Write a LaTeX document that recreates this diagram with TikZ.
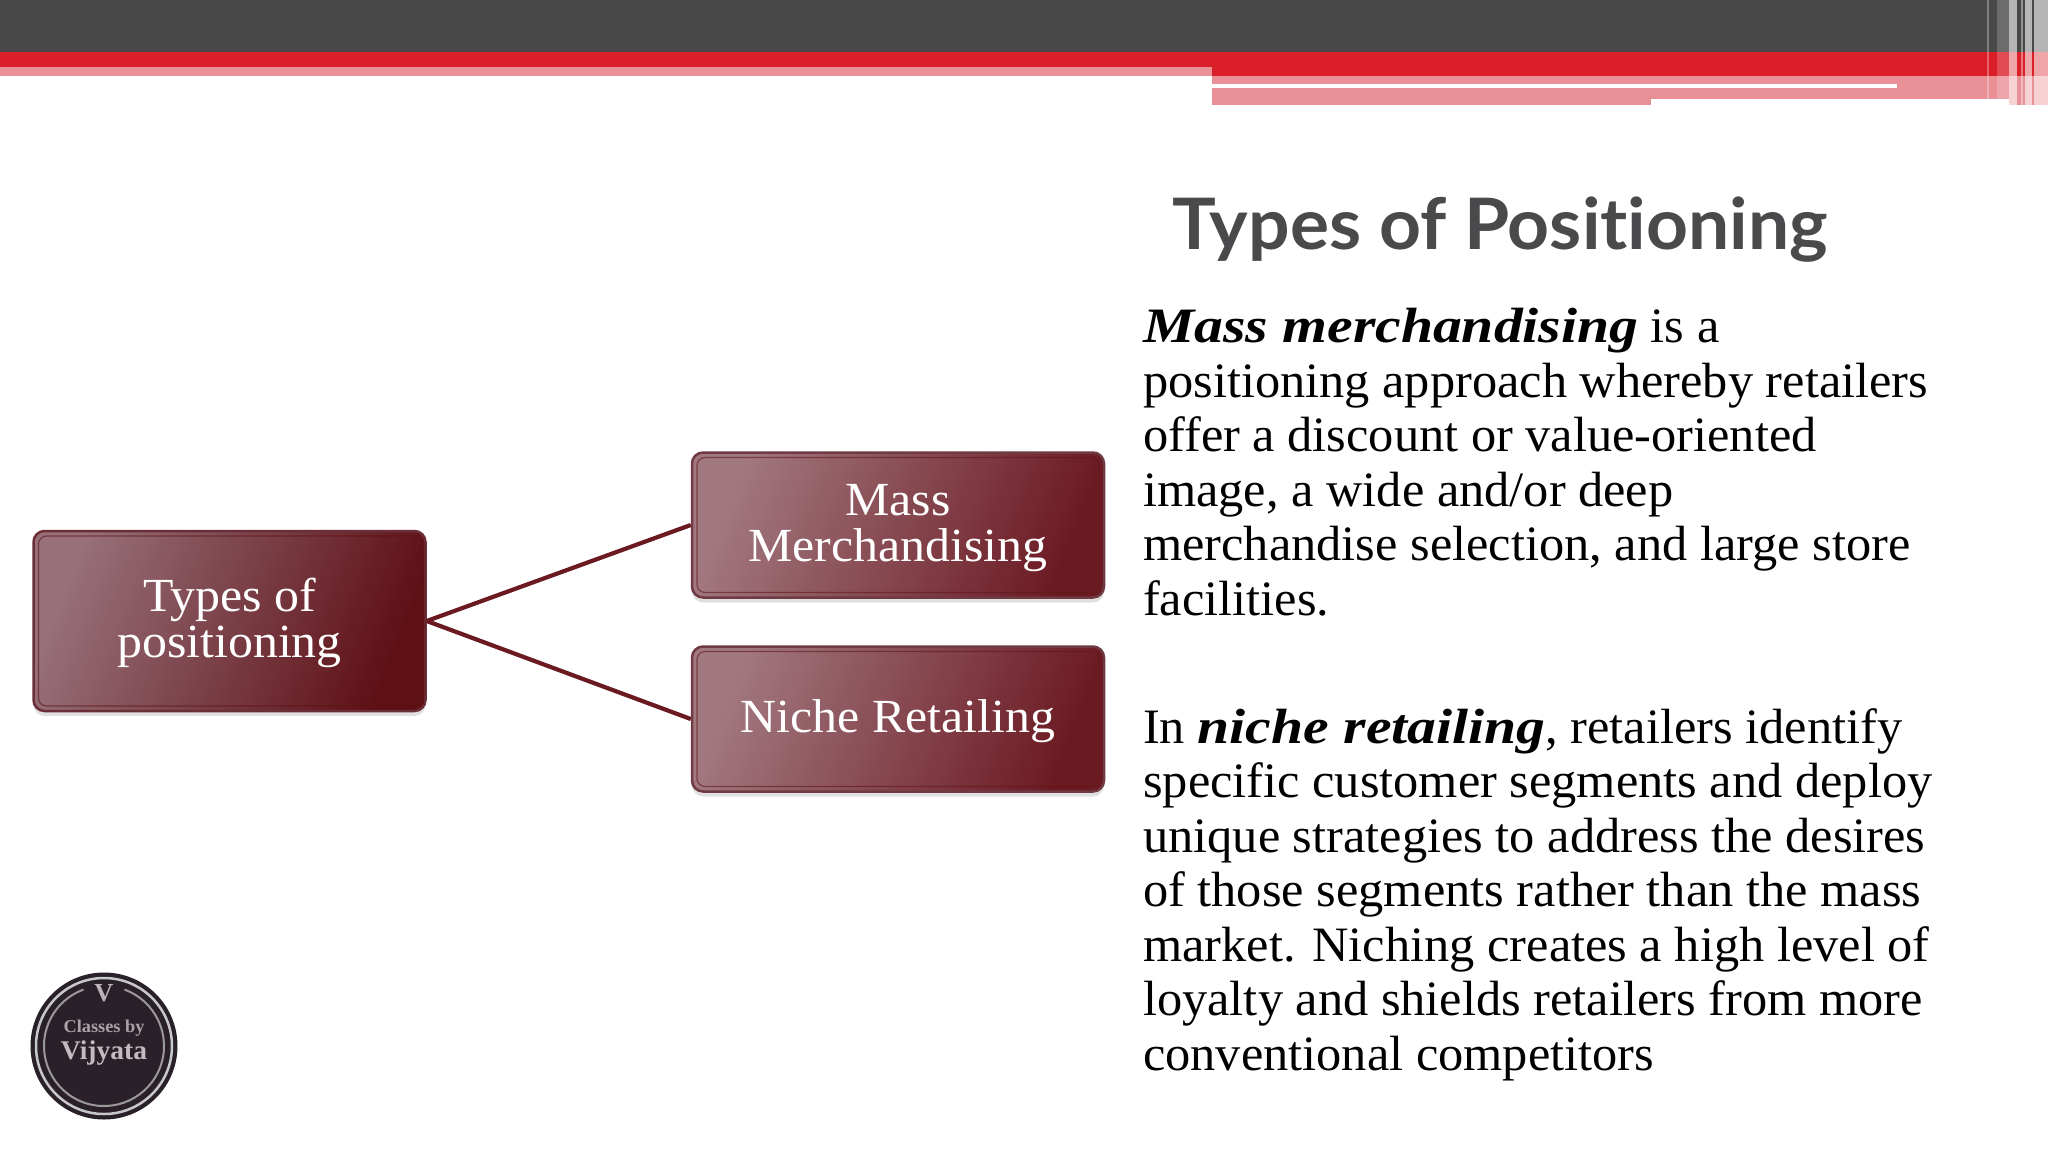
\documentclass[tikz,border=0pt]{standalone}
\usepackage{fontspec}
\setmainfont{Liberation Serif}[FakeStretch=1.018]
\newfontfamily\titlefont{Lato}[FakeStretch=1.03,Ligatures=CommonOff]
\newfontfamily\boxfont{Liberation Serif}[FakeStretch=1.05]
\newfontfamily\emphfont{Liberation Serif}[FakeStretch=1.165]
\newcommand\boxstrut{\rule{0pt}{37pt}}
\newcommand\keyterm[1]{{\emphfont\bfseries\itshape #1}}
\usetikzlibrary{shadows}
\definecolor{bardark}{HTML}{484848}
\definecolor{barred}{HTML}{DB1F28}
\definecolor{barpink}{HTML}{E98F96}
\definecolor{titlegray}{HTML}{4A4A4C}
\definecolor{wine}{HTML}{6A1A20}
\definecolor{logodark}{HTML}{2A2029}
\definecolor{edgebig}{HTML}{6A2E36}
\definecolor{edgesmall}{HTML}{6F3A42}
\definecolor{bigleft}{HTML}{97707A}
\definecolor{bigmid}{HTML}{80404A}
\definecolor{bigright}{HTML}{5E1015}
\definecolor{smallleft}{HTML}{A27880}
\definecolor{smallmid}{HTML}{8C4E56}
\definecolor{smallright}{HTML}{6C1A22}
\definecolor{ringa}{HTML}{C8C8C8}
\definecolor{ringb}{HTML}{9A9A9A}
\definecolor{logotexta}{HTML}{B8B4B8}
\definecolor{logotextb}{HTML}{A8A4A8}
\definecolor{logotextc}{HTML}{C0BCC0}
\tikzset{
  x=1pt,y=-1pt,
  band/.style={fill=#1,draw=none},
  glass/.style={fill=white,fill opacity=#1,draw=none},
  boxbase/.style={rectangle,rounded corners=11pt,draw=#1,line width=2.5pt,inner sep=0pt,
    align=center,text=white,font=\boxfont\fontsize{47.5}{46}\selectfont,
    general shadow={shadow yshift=-5pt,fill=black,opacity=.12},
    path picture={\draw[#1!70!red!60!black,line width=1.2pt,opacity=.6,rounded corners=8pt]
      ([shift={(5pt,-5pt)}]path picture bounding box.north west) rectangle
      ([shift={(-5pt,5pt)}]path picture bounding box.south east);}},
  bigbox/.style={boxbase=edgebig,minimum width=392pt,minimum height=180pt,
    left color=bigleft,middle color=bigmid,right color=bigright,shading angle=68},
  smallbox/.style={boxbase=edgesmall,minimum width=412pt,minimum height=145pt,
    left color=smallleft,middle color=smallmid,right color=smallright,shading angle=68},
  link/.style={draw=wine,line width=4.2pt},
  bodytext/.style={anchor=north west,align=left,inner sep=0pt,text=black,
    font=\fontsize{49.5}{54.5}\selectfont},
  ring/.style={draw=#1,fill=none},
}
\begin{document}
\begin{tikzpicture}
\useasboundingbox (0,0) rectangle (2048,1152);
\fill[white] (0,0) rectangle (2048,1152);
% top bars
\path[band=bardark] (0,0) rectangle (2048,52);
\path[band=barred] (0,52) rectangle (2048,76);
\path[band=barpink] (0,67) rectangle (1212,76);
\path[band=barpink] (1212,76) rectangle (2048,98.5);
\path[band=barpink] (1212,98) rectangle (1651,104.5);
\path[band=white] (1212,83.5) rectangle (1897,88);
% right stripes
\path[band=barpink] (2009,98) rectangle (2048,104.5);
\path[glass=.3] (1987,0) rectangle (1989,98.5);
\path[glass=.2] (1997,0) rectangle (2009,98.5);
\path[glass=.6] (2009,0) rectangle (2017,104.5);
\path[glass=.4] (2021,0) rectangle (2023,104.5);
\path[glass=.6] (2025,0) rectangle (2032,104.5);
\path[glass=.6] (2034,0) rectangle (2048,104.5);
% title
\node[anchor=base west,inner sep=0pt,text=titlegray] (title) at (1172,249)
  {\titlefont\fontsize{71}{71}\selectfont\bfseries Types of Positioning};
% boxes
\node[bigbox] (types) at (229.5,621) {\boxstrut Types of\\positioning};
\node[smallbox] (mass) at (898,525) {\boxstrut Mass\\Merchandising};
\node[smallbox] (niche) at (898,719) {\boxstrut Niche Retailing};
\draw[link] (types.east) -- (mass.west);
\draw[link] (types.east) -- (niche.west);
% body
\node[bodytext] (para1) at (1143,308) {\keyterm{Mass merchandising} is a\\
positioning approach whereby retailers\\
offer a discount or value-oriented\\
image, a wide and/or deep\\
merchandise selection, and large store\\
facilities.};
\node[bodytext] (para2) at (1143,708) {In \keyterm{niche retailing}, retailers identify\\
specific customer segments and deploy\\
unique strategies to address the desires\\
of those segments rather than the mass\\
market. Niching creates a high level of\\
loyalty and shields retailers from more\\
conventional competitors};
% logo
\node[circle,fill=logodark,minimum size=147pt,inner sep=0pt,draw=none] (logo) at (104,1046) {};
\draw[ring=ringa,line width=2.5pt] (logo.center) circle[radius=68];
\draw[ring=ringb,line width=2pt] (logo.center) ++(-70:60) arc[start angle=-70,end angle=250,radius=60];
\node[text=logotexta,inner sep=0pt,font=\bfseries\fontsize{26}{26}\selectfont] (logov) at (104,993) {V};
\node[text=logotextb,inner sep=0pt,font=\bfseries\fontsize{18}{18}\selectfont] (logoa) at (104,1028) {Classes by};
\node[text=logotextc,inner sep=0pt,font=\bfseries\fontsize{27}{27}\selectfont] (logob) at (104,1053) {Vijyata};
\end{tikzpicture}
\end{document}
